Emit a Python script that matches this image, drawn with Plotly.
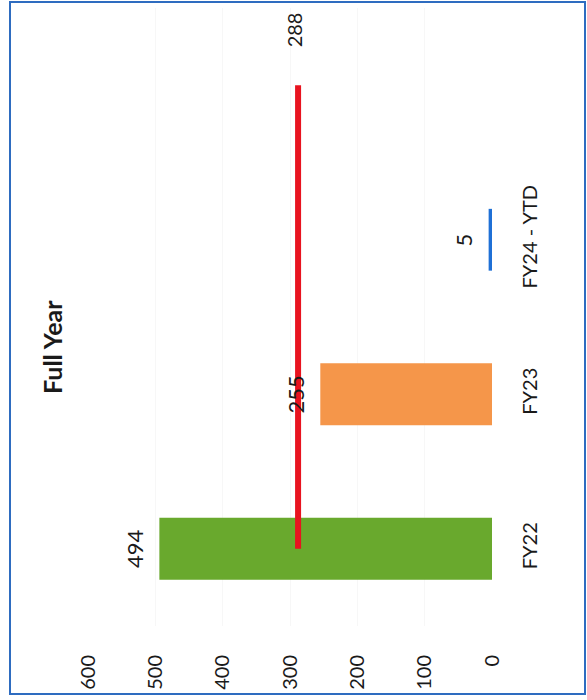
import plotly.graph_objects as go

# Chart data
categories = ["FY22", "FY23", "FY24 - YTD"]
values = [494, 255, 5]
bar_colors = ["#69a92d", "#f5964a", "#1f70d6"]
target_value = 288
spacer_slot = " "          # empty slot after the last category that the target line runs into
x_ticks = [0, 100, 200, 300, 400, 500, 600]
title_text = "Full Year"

W, H = 587, 700
# plot-area geometry in pixels
L, R, T, B = 88, 492, 8, 626
FONT = "Lato, 'Open Sans', sans-serif"
TEXT_COLOR = "#1a1a1a"


def px_x(px):
    return (px - L) / (R - L)


def px_y(py):
    return (B - py) / (B - T)


slots = categories + [spacer_slot]

fig = go.Figure()

fig.add_trace(go.Bar(
    x=values,
    y=categories,
    orientation="h",
    marker=dict(color=bar_colors, line=dict(width=0)),
    showlegend=False,
    hoverinfo="skip",
))

fig.add_trace(go.Scatter(
    x=[target_value] * len(slots),
    y=slots,
    mode="lines",
    line=dict(color="#e8131f", width=6),
    showlegend=False,
    hoverinfo="skip",
))

annotations = []
for cat, val in zip(categories, values):
    annotations.append(dict(
        x=val, y=cat, xref="x", yref="y",
        text=str(val), showarrow=False, textangle=-90,
        xanchor="center", yanchor="middle", xshift=-25,
        font=dict(family=FONT, size=22, color=TEXT_COLOR),
    ))

annotations.append(dict(
    x=target_value, y=spacer_slot, xref="x", yref="y",
    text=str(target_value), showarrow=False, textangle=-90,
    xanchor="center", yanchor="middle", yshift=55, xshift=-4,
    font=dict(family=FONT, size=20, color=TEXT_COLOR),
))

annotations.append(dict(
    x=px_x(52), y=px_y(347), xref="paper", yref="paper",
    text="<b>" + title_text + "</b>", showarrow=False, textangle=-90,
    xanchor="center", yanchor="middle",
    font=dict(family=FONT, size=25, color=TEXT_COLOR),
))

fig.update_layout(
    width=W, height=H,
    margin=dict(l=L, r=W - R, t=T, b=H - B, pad=0),
    paper_bgcolor="white",
    plot_bgcolor="white",
    bargap=0.6,
    annotations=annotations,
    shapes=[dict(
        type="rect", xref="paper", yref="paper",
        x0=px_x(10), x1=px_x(585), y0=px_y(694), y1=px_y(2),
        line=dict(color="#2e6cc0", width=2), fillcolor="rgba(0,0,0,0)",
        layer="above",
    )],
    xaxis=dict(
        range=[600, 0],
        tickvals=x_ticks,
        ticktext=[str(v) for v in x_ticks],
        tickangle=-90,
        ticklabelstandoff=24,
        showgrid=True, gridcolor="#f7f7f7", gridwidth=1,
        zeroline=False, showline=False, ticks="",
        tickfont=dict(family=FONT, size=20, color=TEXT_COLOR),
        fixedrange=True,
    ),
    yaxis=dict(
        type="category",
        categoryorder="array",
        categoryarray=slots,
        range=[-0.5, len(slots) - 0.5],
        side="right",
        tickangle=-90,
        ticklabelstandoff=24,
        showgrid=False, zeroline=False, showline=False, ticks="",
        tickfont=dict(family=FONT, size=20, color=TEXT_COLOR),
        fixedrange=True,
    ),
)

fig.write_html("out.html")
